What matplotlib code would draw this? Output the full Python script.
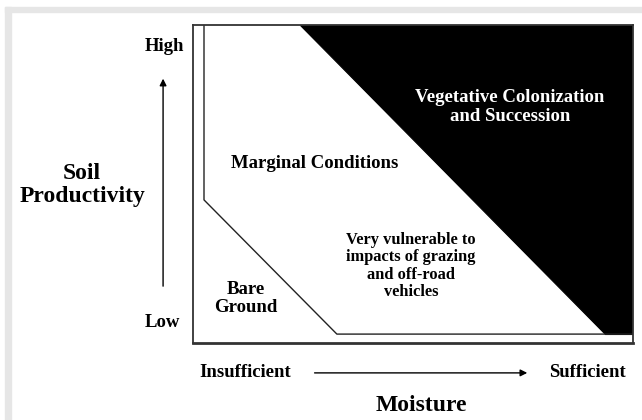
import matplotlib
matplotlib.use("Agg")
import matplotlib.pyplot as plt
from matplotlib.patches import Polygon, Rectangle

plt.rcParams['font.family'] = ['Liberation Serif', 'DejaVu Serif']
plt.rcParams['font.weight'] = 'bold'

# diagram regions, moisture (x) vs soil productivity (y), both 0..1
marginal_x = [0.025, 0.025, 0.327, 1.0]
marginal_y = [1.0, 0.45, 0.028, 0.028]
veg_x = [0.243, 1.0, 1.0, 0.936]
veg_y = [1.0, 1.0, 0.028, 0.028]

region_labels = ["Marginal Conditions", "Vegetative Colonization\nand Succession",
                 "Very vulnerable to\nimpacts of grazing\nand off-road\nvehicles",
                 "Bare\nGround"]
region_pos = [(0.277, 0.566), (0.720, 0.741), (0.495, 0.242), (0.120, 0.140)]
region_color = ['black', 'white', 'black', 'black']
region_size = [13.5, 13.5, 11.8, 13.5]
region_ls = [1.0, 1.15, 1.1, 1.15]

fig = plt.figure(figsize=(6.42, 4.2), dpi=100)
fig.patch.set_facecolor('white')

# light grey frame on top and left
fig.patches.append(Rectangle((5/642, 0), 6/642, 413/420, transform=fig.transFigure,
                             color='#e6e6e6', zorder=0))
fig.patches.append(Rectangle((5/642, 408/420), 637/642, 5/420, transform=fig.transFigure,
                             color='#e6e6e6', zorder=0))

ax = fig.add_axes([193/642, 77/420, 440/642, 318/420])
ax.set_xlim(0, 1)
ax.set_ylim(0, 1)
ax.set_xticks([])
ax.set_yticks([])
for s in ax.spines.values():
    s.set_linewidth(1.3)
    s.set_color('#333333')
ax.spines['bottom'].set_linewidth(2)

ax.add_patch(Polygon(list(zip(veg_x, veg_y)), closed=True, facecolor='black',
                     edgecolor='black', lw=0.8))
ax.plot(marginal_x, marginal_y, color='#222222', lw=1.0)

for lab, (x, y), c, fs, ls in zip(region_labels, region_pos, region_color, region_size, region_ls):
    ax.text(x, y, lab, color=c, fontsize=fs, ha='center', va='center',
            fontweight='bold', linespacing=ls)

# axis labels and arrows
ax.text(-0.020, 0.931, "High", ha='right', va='center', fontsize=13.5, fontweight='bold')
ax.text(-0.030, 0.063, "Low", ha='right', va='center', fontsize=13.5, fontweight='bold')
ax.text(-0.252, 0.497, "Soil\nProductivity", ha='center', va='center', fontsize=17,
        fontweight='bold', linespacing=1.1)
ax.annotate("", xy=(-0.068, 0.840), xytext=(-0.068, 0.170), xycoords='axes fraction',
            arrowprops=dict(arrowstyle='-|>', color='black', lw=1.0, mutation_scale=10),
            annotation_clip=False)

ax.text(0.0136, -0.094, "Insufficient", ha='left', va='center', fontsize=13.5, fontweight='bold')
ax.text(0.984, -0.094, "Sufficient", ha='right', va='center', fontsize=13.5, fontweight='bold')
ax.text(0.518, -0.195, "Moisture", ha='center', va='center', fontsize=17, fontweight='bold')
ax.annotate("", xy=(0.766, -0.094), xytext=(0.270, -0.094), xycoords='axes fraction',
            arrowprops=dict(arrowstyle='-|>', color='black', lw=1.0, mutation_scale=10),
            annotation_clip=False)

fig.savefig('out.png', dpi=100)
